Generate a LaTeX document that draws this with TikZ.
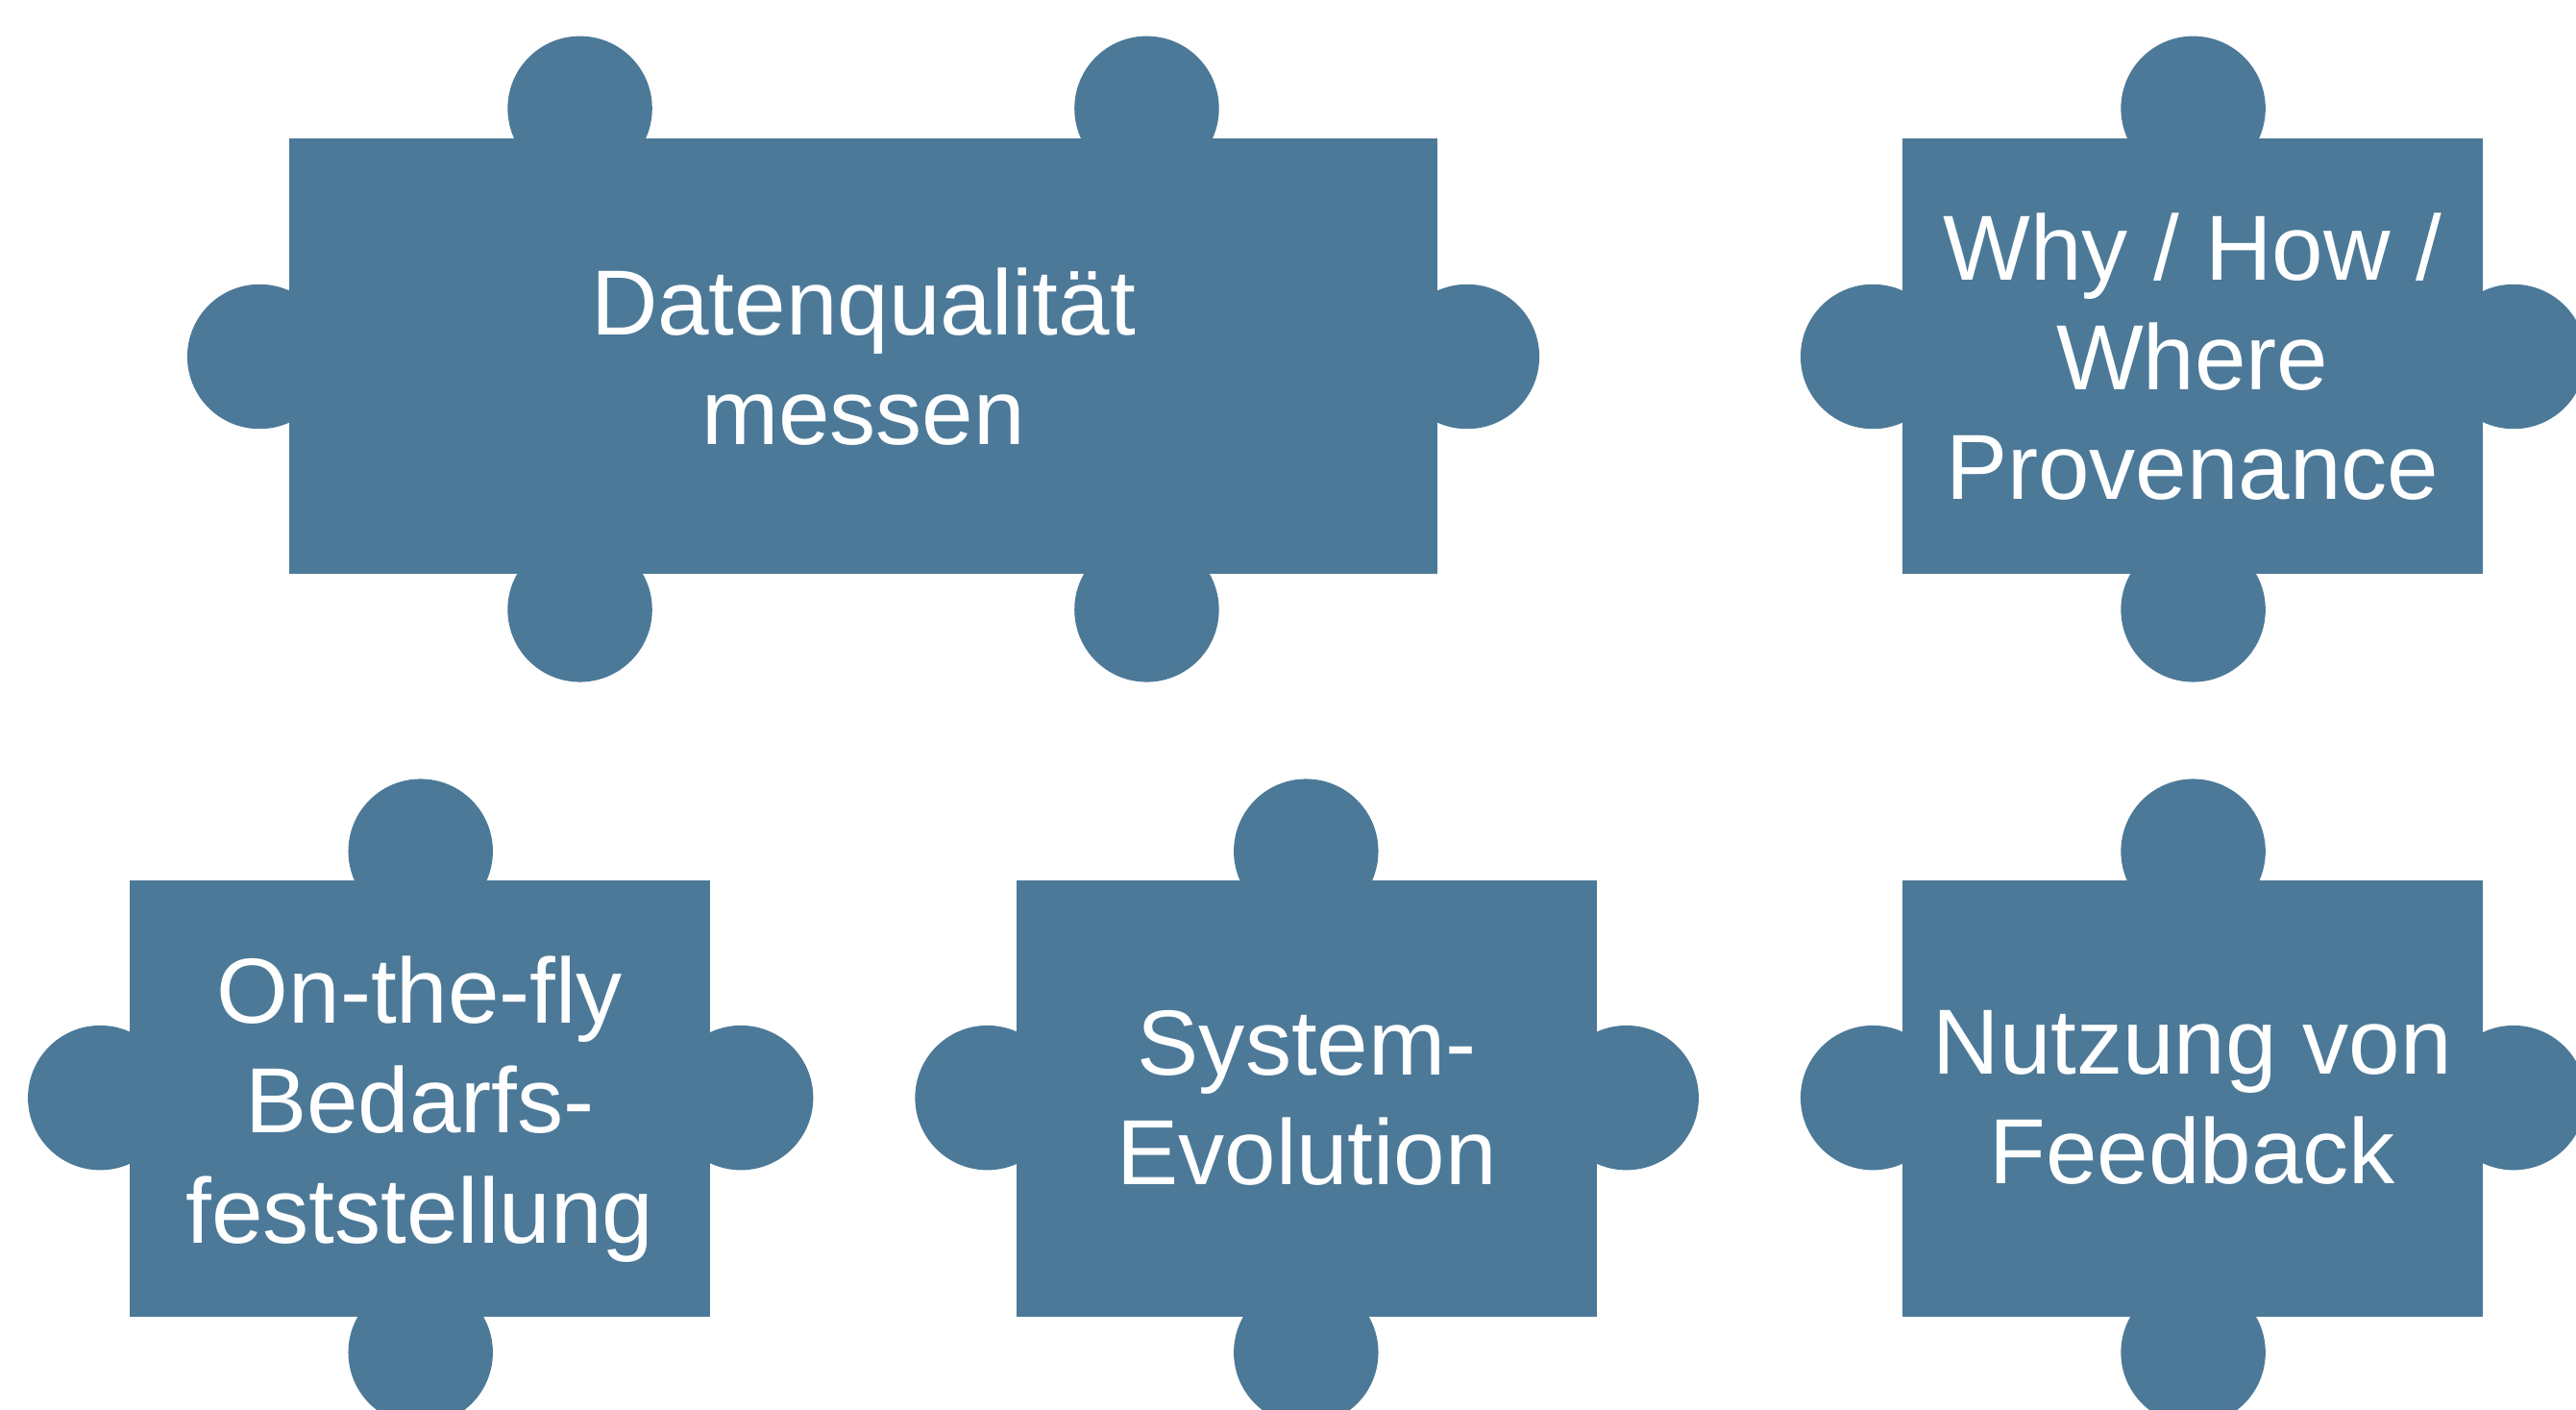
\documentclass[tikz,border=0pt]{standalone}
\usepackage{fontspec}
\setmainfont{Liberation Sans}
\usepackage{tikz}
\definecolor{pieceblue}{HTML}{4C7998}

\begin{document}
\begin{tikzpicture}[x=0.01cm,y=-0.01cm,
    piece/.style={fill=pieceblue},
    piecetext/.style={text=white, align=center, inner sep=0pt,
      font=\fontsize{16}{19}\selectfont}]
  \useasboundingbox (0,0) rectangle (1568,858);
  \clip (0,0) rectangle (1568,858);
  % top row
  \fill[piece] (176,84) rectangle (875,349);
  \fill[piece] (353,66) circle[radius=44];
  \fill[piece] (698,66) circle[radius=44];
  \fill[piece] (353,371) circle[radius=44];
  \fill[piece] (698,371) circle[radius=44];
  \fill[piece] (158,217) circle[radius=44];
  \fill[piece] (893,217) circle[radius=44];
  \node[piecetext] (quality) at (525.5,217) {Datenqualität\\messen};

  \fill[piece] (1158,84) rectangle (1511,349);
  \fill[piece] (1335,66) circle[radius=44];
  \fill[piece] (1335,371) circle[radius=44];
  \fill[piece] (1140,217) circle[radius=44];
  \fill[piece] (1530,217) circle[radius=44];
  \node[piecetext] (provenance) at (1334.5,217) {Why / How /\\Where\\Provenance};

  % bottom row
  \fill[piece] (79,536) rectangle (432,801);
  \fill[piece] (256,518) circle[radius=44];
  \fill[piece] (256,823) circle[radius=44];
  \fill[piece] (61,668) circle[radius=44];
  \fill[piece] (451,668) circle[radius=44];
  \node[piecetext] (ondemand) at (255.5,675) {On-the-fly\\Bedarfs-\\feststellung};

  \fill[piece] (619,536) rectangle (972,801);
  \fill[piece] (795,518) circle[radius=44];
  \fill[piece] (795,823) circle[radius=44];
  \fill[piece] (601,668) circle[radius=44];
  \fill[piece] (990,668) circle[radius=44];
  \node[piecetext] (evolution) at (795.5,668) {System-\\Evolution};

  \fill[piece] (1158,536) rectangle (1511,801);
  \fill[piece] (1335,518) circle[radius=44];
  \fill[piece] (1335,823) circle[radius=44];
  \fill[piece] (1140,668) circle[radius=44];
  \fill[piece] (1530,668) circle[radius=44];
  \node[piecetext] (feedback) at (1334.5,668) {Nutzung von\\Feedback};
\end{tikzpicture}
\end{document}
